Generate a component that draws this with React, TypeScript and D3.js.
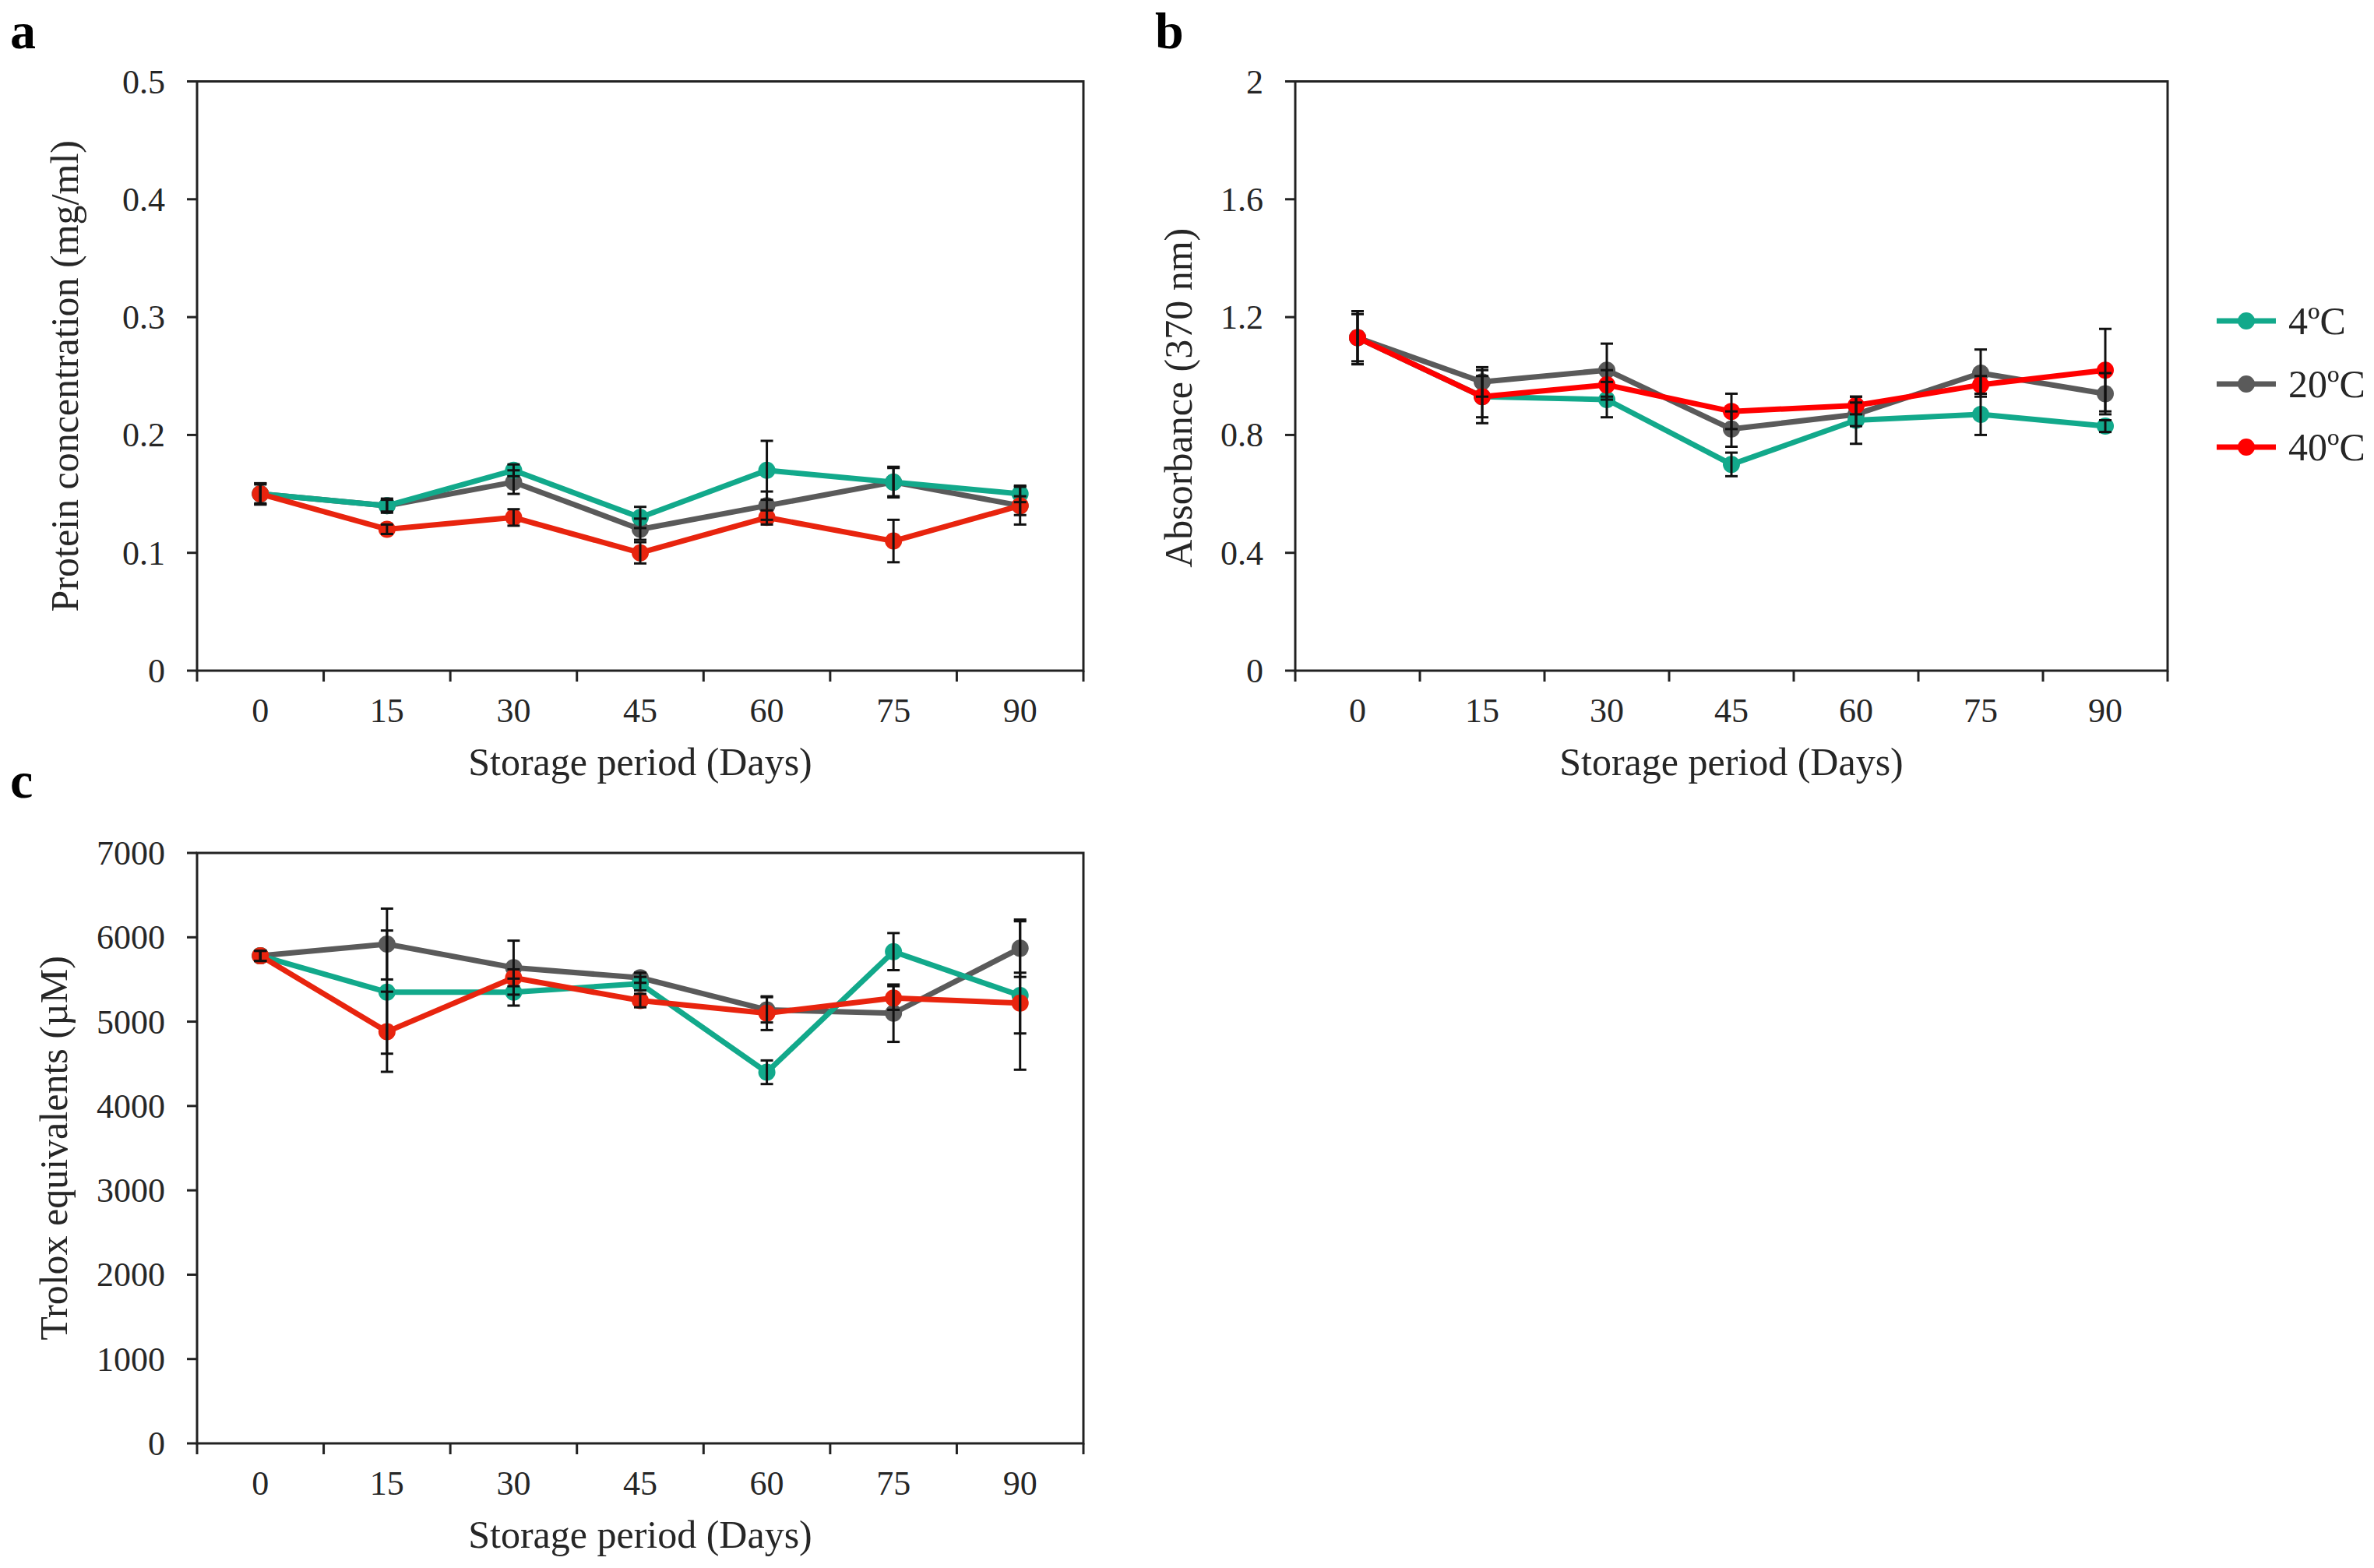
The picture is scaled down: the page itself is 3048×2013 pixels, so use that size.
import React from "react";
import * as d3 from "d3";

const days = ["0", "15", "30", "45", "60", "75", "90"];
const seriesNames = ["4ºC", "20ºC", "40ºC"];

// Panel a – protein concentration (mg/ml)
const a4 = [0.15, 0.14, 0.17, 0.13, 0.17, 0.16, 0.15];
const a20 = [0.15, 0.14, 0.16, 0.12, 0.14, 0.16, 0.14];
const a40 = [0.15, 0.12, 0.13, 0.10, 0.13, 0.11, 0.14];
const a4err = [0.008, 0.006, 0.005, 0.009, 0.025, 0.013, 0.007];
const a20err = [0.009, 0.005, 0.010, 0.009, 0.012, 0.012, 0.016];
const a40err = [0.009, 0.004, 0.007, 0.009, 0.006, 0.018, 0.008];
const aTicks = [0, 0.1, 0.2, 0.3, 0.4, 0.5];

// Panel b – absorbance (370 nm)
const b4 = [1.13, 0.93, 0.92, 0.70, 0.85, 0.87, 0.83];
const b20 = [1.13, 0.98, 1.02, 0.82, 0.87, 1.01, 0.94];
const b40 = [1.13, 0.93, 0.97, 0.88, 0.90, 0.97, 1.02];
const b4err = [0.08, 0.07, 0.06, 0.04, 0.08, 0.07, 0.02];
const b20err = [0.09, 0.05, 0.09, 0.06, 0.04, 0.08, 0.07];
const b40err = [0.09, 0.09, 0.05, 0.06, 0.03, 0.03, 0.14];
const bTicks = [0, 0.4, 0.8, 1.2, 1.6, 2];

// Panel c – Trolox equivalents (µM)
const c4 = [5780, 5350, 5350, 5450, 4400, 5830, 5310];
const c20 = [5780, 5920, 5640, 5520, 5140, 5100, 5870];
const c40 = [5780, 4880, 5520, 5250, 5100, 5280, 5220];
const c4err = [60, 730, 160, 80, 140, 220, 880];
const c20err = [60, 420, 320, 60, 150, 340, 340];
const c40err = [60, 475, 100, 80, 200, 140, 360];
const cTicks = [0, 1000, 2000, 3000, 4000, 5000, 6000, 7000];

const TEAL = "#12A98B";
const GRAY = "#5A5A5A";
const RED_A = "#E8240E";
const RED_B = "#FF0000";

const FONT = "'Liberation Serif', 'Times New Roman', serif";
const AXIS = "#222";
const TEXT = "#262626";

type Series = { name: string; values: number[]; err: number[]; color: string };

type PanelProps = {
  label: string;
  labelX: number;
  labelY: number;
  box: { left: number; right: number; top: number; bottom: number };
  ticks: number[];
  yTitle: string;
  series: Series[];
  drawOrder: number[];
  titleX: number;
  titleCenterShift?: number;
};

function Panel({ label, labelX, labelY, box, ticks, yTitle, series, drawOrder, titleX, titleCenterShift = 0 }: PanelProps) {
  const x = d3.scaleBand<string>().domain(days).range([box.left, box.right]);
  const y = d3
    .scaleLinear()
    .domain([ticks[0], ticks[ticks.length - 1]])
    .range([box.bottom, box.top]);
  const cx = (d: string) => (x(d) as number) + x.bandwidth() / 2;
  const line = d3
    .line<number>()
    .x((_, i) => cx(days[i]))
    .y((v) => y(v));
  const boundaries = days.map((d) => x(d) as number).concat([box.right]);
  const midY = (box.top + box.bottom) / 2 + titleCenterShift;
  const midX = (box.left + box.right) / 2;
  return (
    <g>
      <text x={labelX} y={labelY} fontFamily={FONT} fontWeight="bold" fontSize={66} fill="#000">
        {label}
      </text>
      <rect
        x={box.left}
        y={box.top}
        width={box.right - box.left}
        height={box.bottom - box.top}
        fill="none"
        stroke={AXIS}
        strokeWidth={3}
      />
      {ticks.map((t) => (
        <g key={"yt" + t}>
          <line x1={box.left - 13} x2={box.left} y1={y(t)} y2={y(t)} stroke={AXIS} strokeWidth={3} />
          <text
            x={box.left - 41}
            y={y(t) + 15}
            textAnchor="end"
            fontFamily={FONT}
            fontSize={44}
            fill={TEXT}
          >
            {String(t)}
          </text>
        </g>
      ))}
      {boundaries.map((b, i) => (
        <line key={"xt" + i} x1={b} x2={b} y1={box.bottom} y2={box.bottom + 14} stroke={AXIS} strokeWidth={3} />
      ))}
      {days.map((d) => (
        <text key={"xl" + d} x={cx(d)} y={box.bottom + 66} textAnchor="middle" fontFamily={FONT} fontSize={44} fill={TEXT}>
          {d}
        </text>
      ))}
      <text x={midX} y={box.bottom + 134} textAnchor="middle" fontFamily={FONT} fontSize={50} fill={TEXT}>
        Storage period (Days)
      </text>
      <text
        transform={`translate(${titleX},${midY}) rotate(-90)`}
        textAnchor="middle"
        fontFamily={FONT}
        fontSize={50}
        fill={TEXT}
      >
        {yTitle}
      </text>
      {drawOrder.map((si) => {
        const s = series[si];
        return (
          <g key={"s" + si}>
            <path d={line(s.values) || ""} fill="none" stroke={s.color} strokeWidth={7} strokeLinejoin="round" />
            {s.values.map((v, i) => (
              <circle key={i} cx={cx(days[i])} cy={y(v)} r={11} fill={s.color} />
            ))}
          </g>
        );
      })}
      {series.map((s, si) =>
        s.values.map((v, i) => {
          const px = cx(days[i]);
          const y1 = y(v + s.err[i]);
          const y2 = y(v - s.err[i]);
          return (
            <g key={"e" + si + "-" + i} stroke="#111" strokeWidth={3}>
              <line x1={px} x2={px} y1={y1} y2={y2} />
              <line x1={px - 8} x2={px + 8} y1={y1} y2={y1} />
              <line x1={px - 8} x2={px + 8} y1={y2} y2={y2} />
            </g>
          );
        })
      )}
    </g>
  );
}

function Legend({ x0, y0, colors }: { x0: number; y0: number; colors: string[] }) {
  return (
    <g>
      {seriesNames.map((n, i) => {
        const yy = y0 + i * 81;
        return (
          <g key={n}>
            <line x1={x0} x2={x0 + 76} y1={yy} y2={yy} stroke={colors[i]} strokeWidth={7} />
            <circle cx={x0 + 38} cy={yy} r={11} fill={colors[i]} />
            <text x={x0 + 92} y={yy + 17} fontFamily={FONT} fontSize={50} fill={TEXT}>
              {n}
            </text>
          </g>
        );
      })}
    </g>
  );
}

export default function App() {
  const order = [1, 0, 2];
  const seriesA: Series[] = [
    { name: seriesNames[0], values: a4, err: a4err, color: TEAL },
    { name: seriesNames[1], values: a20, err: a20err, color: GRAY },
    { name: seriesNames[2], values: a40, err: a40err, color: RED_A },
  ];
  const seriesB: Series[] = [
    { name: seriesNames[0], values: b4, err: b4err, color: TEAL },
    { name: seriesNames[1], values: b20, err: b20err, color: GRAY },
    { name: seriesNames[2], values: b40, err: b40err, color: RED_B },
  ];
  const seriesC: Series[] = [
    { name: seriesNames[0], values: c4, err: c4err, color: TEAL },
    { name: seriesNames[1], values: c20, err: c20err, color: GRAY },
    { name: seriesNames[2], values: c40, err: c40err, color: RED_A },
  ];
  return (
    <svg
      width={3048}
      height={2013}
      viewBox="0 0 3048 2013"
      style={{ position: "absolute", left: 0, top: 0, background: "#fff" }}
    >
      <rect x={0} y={0} width={3048} height={2013} fill="#fff" />
      <Panel
        label="a"
        labelX={13}
        labelY={62}
        box={{ left: 253, right: 1391, top: 104.5, bottom: 861 }}
        ticks={aTicks}
        yTitle="Protein concentration (mg/ml)"
        series={seriesA}
        drawOrder={order}
        titleX={100}
      />
      <Panel
        label="b"
        labelX={1483}
        labelY={62}
        box={{ left: 1663, right: 2783, top: 104.5, bottom: 861 }}
        ticks={bTicks}
        yTitle="Absorbance (370 nm)"
        series={seriesB}
        drawOrder={order}
        titleX={1530}
        titleCenterShift={28}
      />
      <Panel
        label="c"
        labelX={13}
        labelY={1024}
        box={{ left: 253, right: 1391, top: 1095, bottom: 1853 }}
        ticks={cTicks}
        yTitle="Trolox equivalents (µM)"
        series={seriesC}
        drawOrder={order}
        titleX={86}
      />
      <Legend x0={2846} y0={412} colors={[TEAL, GRAY, RED_B]} />
    </svg>
  );
}
